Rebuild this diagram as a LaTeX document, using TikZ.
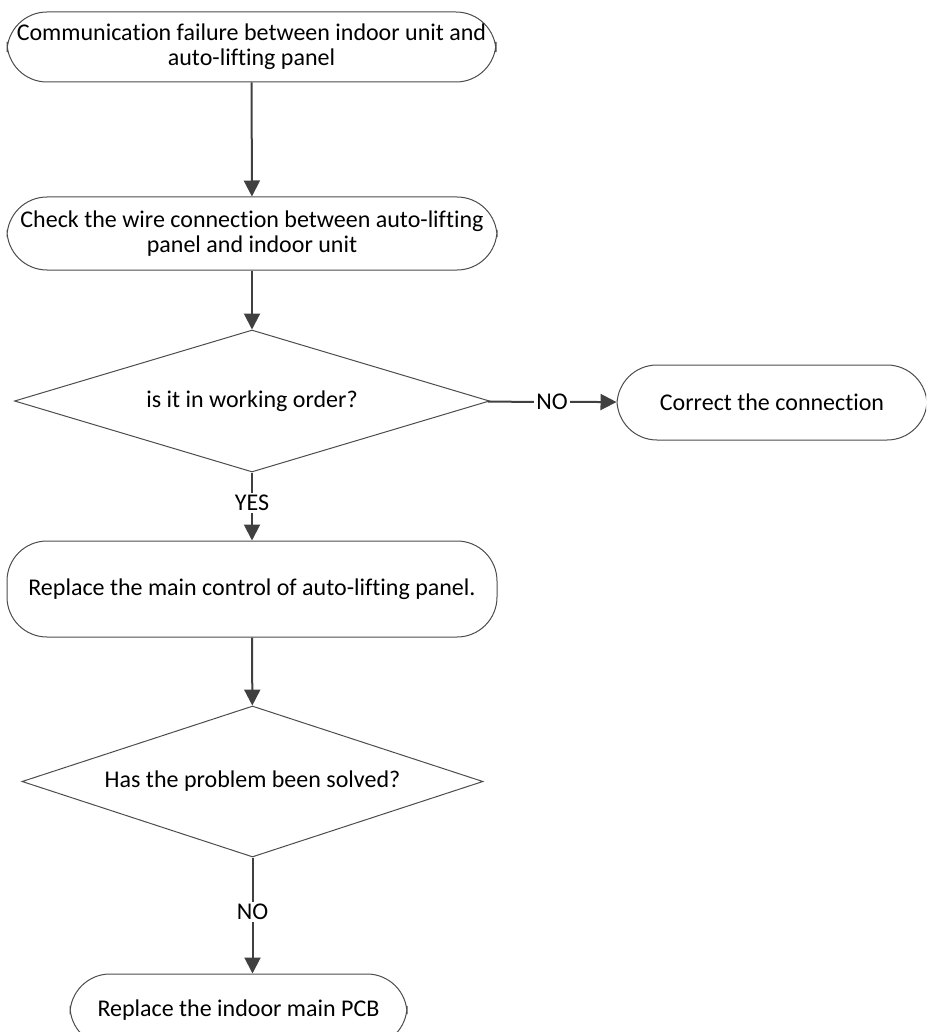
\documentclass[tikz,border=0pt]{standalone}
\usepackage{fontspec}
\setmainfont{Carlito}[RawFeature=-liga]
\usetikzlibrary{arrows.meta,shapes.geometric}

\begin{document}
\begin{tikzpicture}[
  x=0.5pt, y=-0.5pt,
  font=\fontsize{12}{12.5}\selectfont,
  box/.style={draw=black!70, line width=0.5pt, rounded corners=20pt, align=center, inner sep=2pt},
  decision/.style={draw=black!70, line width=0.5pt, diamond, inner sep=0pt, align=center},
  arr/.style={-{Triangle[length=8pt, width=8pt]}, line width=1pt, draw=black!75},
  lbl/.style={fill=white, inner sep=1pt}
]
\clip (0,0) rectangle (926,1032);
\node[box, minimum width=244.5pt, minimum height=35pt] (start) at (251.5,47) {Communication failure between indoor unit and\\auto-lifting panel};
\node[box, minimum width=245pt, minimum height=36.5pt] (check) at (252,233.5) {Check the wire connection between auto-lifting\\panel and indoor unit};
\node[decision, aspect=3.35, minimum width=237.5pt, minimum height=71pt] (order) at (252,401) {is it in working order?};
\node[box, minimum width=155pt, minimum height=37.5pt] (fix) at (772,402.5) {Correct the connection};
\node[box, minimum width=245pt, minimum height=48pt] (mcb) at (252,589) {Replace the main control of auto-lifting panel.};
\node[decision, aspect=3.05, minimum width=230.5pt, minimum height=75.5pt] (solved) at (252.5,781.5) {Has the problem been solved?};
\node[box, minimum width=168.5pt, minimum height=36pt] (pcb) at (238.5,1010) {Replace the indoor main PCB};

\draw[arr] (start) -- (check);
\draw[arr] (check) -- (order);
\draw[arr] (order) -- node[lbl] (no1) {NO} (fix);
\draw[arr] (order) -- node[lbl, pos=0.45] (yes) {YES} (mcb);
\draw[arr] (mcb) -- (solved);
\draw[arr] (solved.south) -- node[lbl, pos=0.47] (no2) {NO} (solved.south |- pcb.north);
\end{tikzpicture}
\end{document}
